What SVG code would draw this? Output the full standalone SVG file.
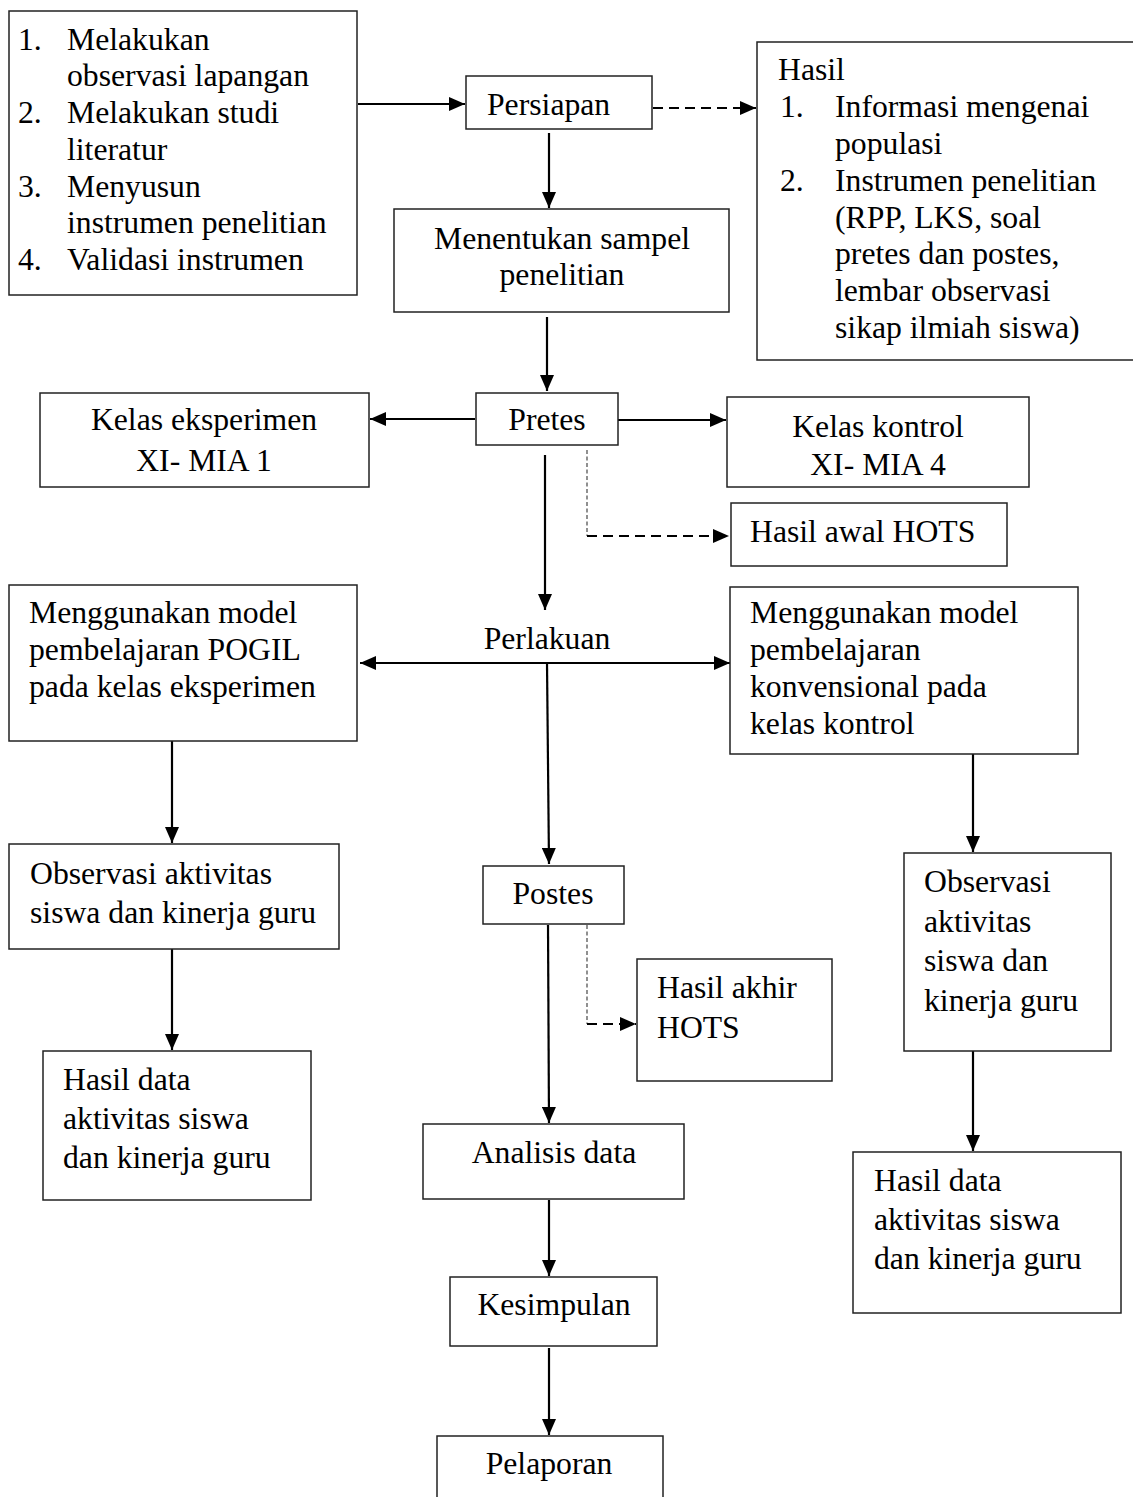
<svg xmlns="http://www.w3.org/2000/svg" width="1133" height="1497" viewBox="0 0 1133 1497">
<style>
.box{fill:#fff;stroke:#222;stroke-width:1.5}
text{font-family:"Liberation Serif","Times New Roman",serif;font-size:31.7px;fill:#000}
.c{text-anchor:middle}
.ln{fill:none;stroke:#000;stroke-width:2.2}
.dash{fill:none;stroke:#000;stroke-width:2.2;stroke-dasharray:10 6}
.dot{fill:none;stroke:#555;stroke-width:1.3;stroke-dasharray:4 2.5}
</style>
<defs>
<marker id="ah" markerUnits="userSpaceOnUse" markerWidth="16" markerHeight="14" refX="16" refY="7" orient="auto-start-reverse" viewBox="0 0 16 14">
<path d="M0,0 L16,7 L0,14 z" fill="#000"/>
</marker>
</defs>
<rect width="1133" height="1497" fill="#fff"/>

<g id="connectors">
<line class="ln" x1="358" y1="104" x2="465" y2="104" marker-end="url(#ah)"/>
<line class="dash" x1="653" y1="108" x2="756" y2="108" marker-end="url(#ah)"/>
<line class="ln" x1="549" y1="133" x2="549" y2="208" marker-end="url(#ah)"/>
<line class="ln" x1="547" y1="317" x2="547" y2="391" marker-end="url(#ah)"/>
<line class="ln" x1="475" y1="419" x2="370" y2="419" marker-end="url(#ah)"/>
<line class="ln" x1="618" y1="420" x2="726" y2="420" marker-end="url(#ah)"/>
<line class="dot" x1="587" y1="450" x2="587" y2="536"/>
<line class="dash" x1="587" y1="536" x2="729" y2="536" marker-end="url(#ah)"/>
<line class="ln" x1="545" y1="455" x2="545" y2="610" marker-end="url(#ah)"/>
<line class="ln" x1="360" y1="663" x2="730" y2="663" marker-start="url(#ah)" marker-end="url(#ah)"/>
<line class="ln" x1="547" y1="663" x2="549" y2="864" marker-end="url(#ah)"/>
<line class="ln" x1="172" y1="741" x2="172" y2="843" marker-end="url(#ah)"/>
<line class="ln" x1="172" y1="949" x2="172" y2="1050" marker-end="url(#ah)"/>
<line class="ln" x1="973" y1="754" x2="973" y2="852" marker-end="url(#ah)"/>
<line class="ln" x1="973" y1="1051" x2="973" y2="1151" marker-end="url(#ah)"/>
<line class="dot" x1="587" y1="925" x2="587" y2="1024"/>
<line class="dash" x1="587" y1="1024" x2="636" y2="1024" marker-end="url(#ah)"/>
<line class="ln" x1="548" y1="925" x2="549" y2="1123" marker-end="url(#ah)"/>
<line class="ln" x1="549" y1="1200" x2="549" y2="1276" marker-end="url(#ah)"/>
<line class="ln" x1="549" y1="1348" x2="549" y2="1435" marker-end="url(#ah)"/>
</g>

<g id="persiapan-steps">
<rect class="box" x="9" y="11" width="348" height="284"/>
<text x="18" y="50">1.</text><text x="67" y="50">Melakukan</text>
<text x="67" y="86">observasi lapangan</text>
<text x="18" y="123">2.</text><text x="67" y="123">Melakukan studi</text>
<text x="67" y="160">literatur</text>
<text x="18" y="197">3.</text><text x="67" y="197">Menyusun</text>
<text x="67" y="233">instrumen penelitian</text>
<text x="18" y="270">4.</text><text x="67" y="270">Validasi instrumen</text>
</g>

<g id="persiapan">
<rect class="box" x="466" y="76" width="186" height="53"/>
<text x="487" y="115">Persiapan</text>
</g>

<g id="hasil-persiapan">
<rect class="box" x="757" y="42" width="390" height="318"/>
<text x="778" y="80">Hasil</text>
<text x="780" y="117">1.</text><text x="835" y="117">Informasi mengenai</text>
<text x="835" y="154">populasi</text>
<text x="780" y="191">2.</text><text x="835" y="191">Instrumen penelitian</text>
<text x="835" y="228">(RPP, LKS, soal</text>
<text x="835" y="264">pretes dan postes,</text>
<text x="835" y="301">lembar observasi</text>
<text x="835" y="338">sikap ilmiah siswa)</text>
</g>

<g id="menentukan-sampel">
<rect class="box" x="394" y="209" width="335" height="103"/>
<text class="c" x="562" y="249">Menentukan sampel</text>
<text class="c" x="562" y="285">penelitian</text>
</g>

<g id="pretes">
<rect class="box" x="476" y="393" width="142" height="52"/>
<text class="c" x="547" y="430">Pretes</text>
</g>

<g id="kelas-eksperimen">
<rect class="box" x="40" y="393" width="329" height="94"/>
<text class="c" x="204" y="430">Kelas eksperimen</text>
<text class="c" x="204" y="471">XI- MIA 1</text>
</g>

<g id="kelas-kontrol">
<rect class="box" x="727" y="397" width="302" height="90"/>
<text class="c" x="878" y="437">Kelas kontrol</text>
<text class="c" x="878" y="475">XI- MIA 4</text>
</g>

<g id="hasil-awal-hots">
<rect class="box" x="731" y="503" width="276" height="63"/>
<text x="750" y="542">Hasil awal HOTS</text>
</g>

<g id="perlakuan">
<text class="c" x="547" y="649">Perlakuan</text>
</g>

<g id="model-pogil">
<rect class="box" x="9" y="585" width="348" height="156"/>
<text x="29" y="623">Menggunakan model</text>
<text x="29" y="660">pembelajaran POGIL</text>
<text x="29" y="697">pada kelas eksperimen</text>
</g>

<g id="model-konvensional">
<rect class="box" x="730" y="587" width="348" height="167"/>
<text x="750" y="623">Menggunakan model</text>
<text x="750" y="660">pembelajaran</text>
<text x="750" y="697">konvensional pada</text>
<text x="750" y="734">kelas kontrol</text>
</g>

<g id="observasi-eksperimen">
<rect class="box" x="9" y="844" width="330" height="105"/>
<text x="30" y="884">Observasi aktivitas</text>
<text x="30" y="923">siswa dan kinerja guru</text>
</g>

<g id="hasil-data-eksperimen">
<rect class="box" x="43" y="1051" width="268" height="149"/>
<text x="63" y="1090">Hasil data</text>
<text x="63" y="1129">aktivitas siswa</text>
<text x="63" y="1168">dan kinerja guru</text>
</g>

<g id="postes">
<rect class="box" x="483" y="866" width="141" height="58"/>
<text class="c" x="553" y="904">Postes</text>
</g>

<g id="hasil-akhir-hots">
<rect class="box" x="637" y="959" width="195" height="122"/>
<text x="657" y="998">Hasil akhir</text>
<text x="657" y="1038">HOTS</text>
</g>

<g id="observasi-kontrol">
<rect class="box" x="904" y="853" width="207" height="198"/>
<text x="924" y="892">Observasi</text>
<text x="924" y="932">aktivitas</text>
<text x="924" y="971">siswa dan</text>
<text x="924" y="1011">kinerja guru</text>
</g>

<g id="hasil-data-kontrol">
<rect class="box" x="853" y="1152" width="268" height="161"/>
<text x="874" y="1191">Hasil data</text>
<text x="874" y="1230">aktivitas siswa</text>
<text x="874" y="1269">dan kinerja guru</text>
</g>

<g id="analisis-data">
<rect class="box" x="423" y="1124" width="261" height="75"/>
<text class="c" x="554" y="1163">Analisis data</text>
</g>

<g id="kesimpulan">
<rect class="box" x="450" y="1277" width="207" height="69"/>
<text class="c" x="554" y="1315">Kesimpulan</text>
</g>

<g id="pelaporan">
<rect class="box" x="437" y="1436" width="226" height="90"/>
<text class="c" x="549" y="1474">Pelaporan</text>
</g>
</svg>
